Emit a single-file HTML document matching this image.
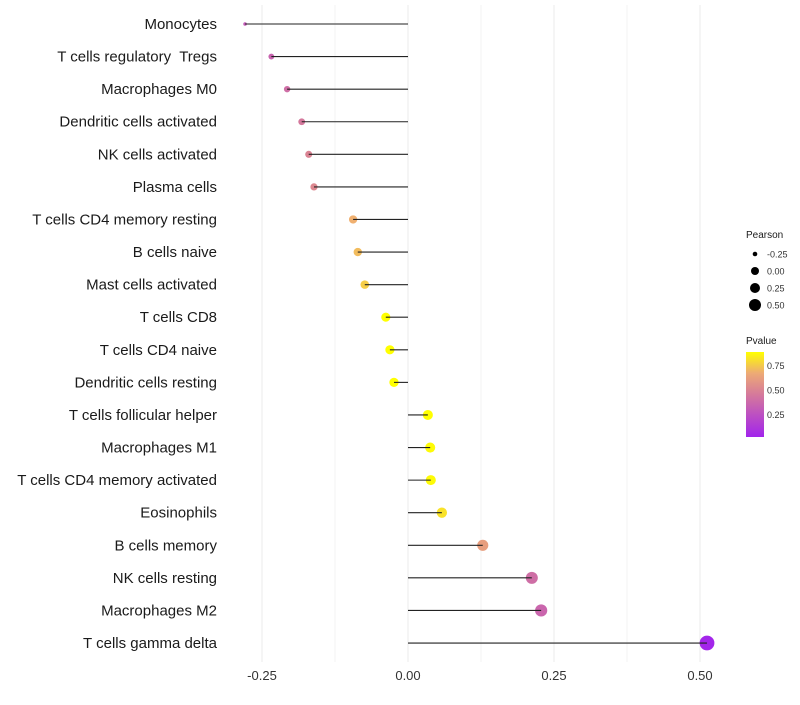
<!DOCTYPE html>
<html><head><meta charset="utf-8"><style>
body{margin:0;background:#fff;font-family:"Liberation Sans",Arial,sans-serif}
text{white-space:pre}
</style></head><body>
<svg id="chart" width="800" height="700" xmlns="http://www.w3.org/2000/svg"></svg>
<script>
const categories=["Monocytes","T cells regulatory  Tregs","Macrophages M0","Dendritic cells activated","NK cells activated","Plasma cells","T cells CD4 memory resting","B cells naive","Mast cells activated","T cells CD8","T cells CD4 naive","Dendritic cells resting","T cells follicular helper","Macrophages M1","T cells CD4 memory activated","Eosinophils","B cells memory","NK cells resting","Macrophages M2","T cells gamma delta"];
const pearson=[-0.279,-0.234,-0.207,-0.182,-0.170,-0.161,-0.094,-0.086,-0.074,-0.038,-0.031,-0.024,0.034,0.038,0.039,0.058,0.128,0.212,0.228,0.512];
const pvalues=[0.30,0.35,0.40,0.45,0.50,0.52,0.70,0.73,0.77,0.90,0.90,0.90,0.90,0.88,0.88,0.82,0.62,0.40,0.36,0.03];
const xTicks=[-0.25,0,0.25,0.5];
const xTickLabels=["-0.25","0.00","0.25","0.50"];
const sizeLegend=[-0.25,0,0.25,0.5];
const sizeLegendLabels=["-0.25","0.00","0.25","0.50"];
const colorLegendTicks=[0.75,0.5,0.25];

const svg=document.getElementById('chart');
const NS="http://www.w3.org/2000/svg";
const x=v=>408+v*584;
const y=i=>24+i*32.58;
const r=v=>v<-0.26?1.8:Math.sqrt(Math.max(4,23+62*v));
function col(p){
  const stops=[[0,[160,32,240]],[0.45,[212,120,156]],[0.7,[240,176,112]],[0.89,[255,255,0]],[1,[255,255,0]]];
  for(let k=0;k<stops.length-1;k++){const[a,ca]=stops[k],[b,cb]=stops[k+1];
    if(p<=b){const t=(p-a)/(b-a);return `rgb(${ca.map((c,j)=>Math.round(c+(cb[j]-c)*t)).join(',')})`;}}
  return 'rgb(255,255,0)';
}
function el(tag,attrs,parent){const e=document.createElementNS(NS,tag);for(const k in attrs)e.setAttribute(k,attrs[k]);(parent||svg).appendChild(e);return e;}
for(let v=-0.25;v<=0.5001;v+=0.125){const g=el('line',{x1:x(v),x2:x(v),y1:5,y2:662,stroke:Math.round(v*8)%2===0?'#ebebeb':'#f3f3f3','stroke-width':1});

}
categories.forEach((c,i)=>{
  const t=el('text',{x:217,y:y(i)+5,'text-anchor':'end','font-size':15,fill:'#1a1a1a'});t.textContent=c;
  
  
  const d=el('circle',{cx:x(pearson[i]),cy:y(i),r:r(pearson[i]),fill:col(pvalues[i])});
  
  
  const l=el('line',{x1:x(0),x2:x(pearson[i]),y1:y(i),y2:y(i),stroke:'#222','stroke-width':1.1});
  
  
});
xTicks.forEach((v,i)=>{const t=el('text',{x:x(v),y:680,'text-anchor':'middle','font-size':13,fill:'#333'});t.textContent=xTickLabels[i];

});
const st=el('text',{x:746,y:238,'font-size':10,fill:'#1a1a1a'});st.textContent='Pearson';


const legR=[2.3,4,5,6];
sizeLegend.forEach((v,i)=>{const cy=254+i*17;
const c=el('circle',{cx:755,cy:cy,r:Math.min(r(v),legR[i]),fill:'#000'});


const t=el('text',{x:767,y:cy+3.5,'font-size':9,fill:'#333'});t.textContent=sizeLegendLabels[i];

});
const ct=el('text',{x:746,y:344,'font-size':10,fill:'#1a1a1a'});ct.textContent='Pvalue';


const defs=el('defs',{});const lg=el('linearGradient',{id:'pg',x1:0,y1:1,x2:0,y2:0},defs);
[0,0.25,0.5,0.75,1].forEach(f=>el('stop',{offset:f,'stop-color':col(0.02+f*0.87)},lg));
const bar=el('rect',{x:746,y:352,width:18,height:85,fill:'url(#pg)'});


colorLegendTicks.forEach(v=>{const yy=437-(v-0.02)/0.87*85;
const t=el('text',{x:767,y:yy+3.5,'font-size':9,fill:'#333'});t.textContent=v.toFixed(2);

});
</script>
</body></html>
